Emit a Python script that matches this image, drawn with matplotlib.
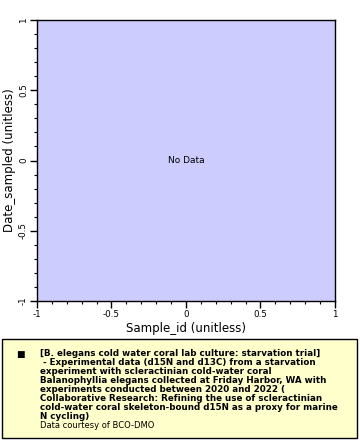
import matplotlib
matplotlib.use("Agg")
import matplotlib.pyplot as plt
from matplotlib.patches import Rectangle
from matplotlib.ticker import MultipleLocator

x_ticks = [-1, -0.5, 0, 0.5, 1]
y_ticks = [-1, -0.5, 0, 0.5, 1]
x_ticklabels = ["-1", "-0.5", "0", "0.5", "1"]
y_ticklabels = ["-1", "-0.5", "0", "0.5", "1"]
x_label = "Sample_id (unitless)"
y_label = "Date_sampled (unitless)"
legend_lines = [
    "[B. elegans cold water coral lab culture: starvation trial]",
    " - Experimental data (d15N and d13C) from a starvation",
    "experiment with scleractinian cold-water coral",
    "Balanophyllia elegans collected at Friday Harbor, WA with",
    "experiments conducted between 2020 and 2022 (",
    "Collaborative Research: Refining the use of scleractinian",
    "cold-water coral skeleton-bound d15N as a proxy for marine",
    "N cycling)",
]
courtesy = "Data courtesy of BCO-DMO"

W, H = 360, 440
fig = plt.figure(figsize=(W / 100, H / 100), dpi=100)
ax = fig.add_axes([37 / W, 1 - 301 / H, (335 - 37) / W, (301 - 20) / H])
ax.set_facecolor("#CCCCFF")
ax.set_xlim(-1, 1)
ax.set_ylim(-1, 1)
ax.set_xticks(x_ticks)
ax.set_xticklabels(x_ticklabels)
ax.set_yticks(y_ticks)
ax.set_yticklabels(y_ticklabels, rotation=90, va="center")
ax.xaxis.set_minor_locator(MultipleLocator(0.1))
ax.yaxis.set_minor_locator(MultipleLocator(0.1))
ax.tick_params(which="major", length=5, width=1, labelsize=6.3, pad=1.5, direction="out")
ax.tick_params(which="minor", length=2.5, width=0.8, direction="out")
ax.tick_params(top=False, right=False)
for s in ax.spines.values():
    s.set_linewidth(1)
ax.set_xlabel(x_label, fontsize=8.5, labelpad=2)
ax.set_ylabel(y_label, fontsize=8.5, labelpad=2)
ax.text(0, 0, "No Data", fontsize=6.5, ha="center", va="center")

# legend box
fig.patches.append(Rectangle((2 / W, 1 - 438 / H), (357 - 2) / W, (438 - 339) / H,
                             transform=fig.transFigure, facecolor="#FFFFCC",
                             edgecolor="black", linewidth=1))
fig.text(20 / W, 1 - 354 / H, "■", fontsize=6.5, ha="center", va="center")
y0 = 353
step = 9.1
fam = ["Liberation Sans Narrow", "DejaVu Sans"]
for i, line in enumerate(legend_lines):
    fig.text(40 / W, 1 - (y0 + i * step) / H, line, fontsize=6.3, fontweight="bold",
             family=fam, ha="left", va="center")
fig.text(40 / W, 1 - (y0 + len(legend_lines) * step) / H, courtesy, fontsize=6,
         ha="left", va="center")

fig.savefig("out.png", dpi=100)
